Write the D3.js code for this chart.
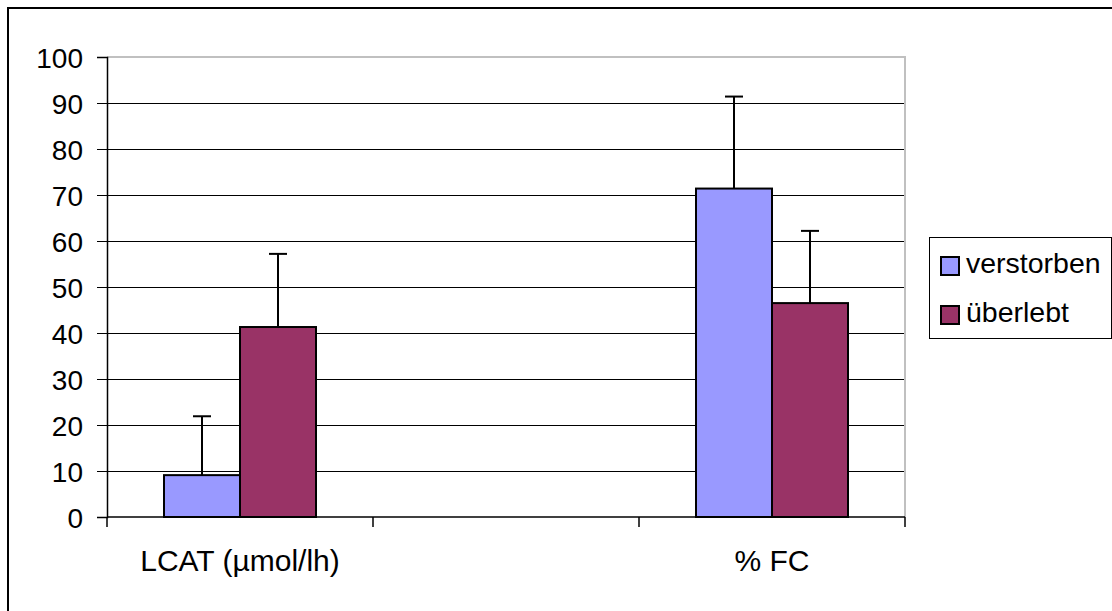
<!DOCTYPE html>
<html><head><meta charset="utf-8">
<script src="https://cdn.jsdelivr.net/npm/d3@7"></script>
<style>body{margin:0;background:#fff}svg{display:block}text{font-family:"Liberation Sans",Arial,sans-serif;fill:#000}</style>
</head><body>
<script>
const categories = ["LCAT (µmol/lh)", "", "% FC"];
const seriesNames = ["verstorben", "überlebt"];
const verstorben = [9.1, null, 71.4];
const ueberlebt = [41.3, null, 46.5];
const verstorbenErr = [12.8, null, 20.0];
const ueberlebtErr = [15.9, null, 15.7];
const yTicks = [0, 10, 20, 30, 40, 50, 60, 70, 80, 90, 100];
const colors = ["#9999FF", "#993366"];

const W = 1112, H = 611;
const svg = d3.select("body").append("svg").attr("width", W).attr("height", H);

// outer chart border (cropped on right/bottom)
svg.append("rect").attr("x", 8).attr("y", 8).attr("width", W + 10).attr("height", H + 10)
  .attr("fill", "#fff").attr("stroke", "#000").attr("stroke-width", 2);

const L = 107, R = 905, T = 57, B = 517;
const x = d3.scaleBand().domain(categories.map((c, i) => i)).range([L, R]).paddingInner(0).paddingOuter(0);
const y = d3.scaleLinear().domain([0, 100]).range([B, T]);

// gridlines
svg.append("g").selectAll("line").data(yTicks.filter(t => t > 0 && t < 100)).join("line")
  .attr("x1", L).attr("x2", R).attr("y1", d => y(d)).attr("y2", d => y(d))
  .attr("stroke", "#000").attr("stroke-width", 1).attr("shape-rendering", "crispEdges");

// plot area border (top & right gray)
svg.append("path").attr("d", `M${L},${y(100)}H${R}V${B}`).attr("fill", "none")
  .attr("stroke", "#c0c0c0").attr("stroke-width", 2);

// bars
const data = [];
categories.forEach((c, i) => {
  [verstorben, ueberlebt].forEach((s, j) => {
    if (s[i] != null) data.push({ i, j, v: s[i], e: (j === 0 ? verstorbenErr : ueberlebtErr)[i] });
  });
});
const bw = x.bandwidth() / 3.5;
const bx = d => x(d.i) + x.bandwidth() / 2 - bw + d.j * bw;

// error bars
const eg = svg.append("g").attr("stroke", "#000").attr("stroke-width", 2);
data.forEach(d => {
  const cx = bx(d) + bw / 2;
  eg.append("line").attr("x1", cx).attr("x2", cx).attr("y1", y(d.v)).attr("y2", y(d.v + d.e));
  eg.append("line").attr("x1", cx - 9).attr("x2", cx + 9).attr("y1", y(d.v + d.e)).attr("y2", y(d.v + d.e));
});

svg.append("g").selectAll("rect").data(data).join("rect")
  .attr("x", bx).attr("width", bw)
  .attr("y", d => y(d.v)).attr("height", d => y(0) - y(d.v))
  .attr("fill", d => colors[d.j]).attr("stroke", "#000").attr("stroke-width", 2);

// y axis
const yAxis = d3.axisLeft(y).tickValues(yTicks).tickSize(10).tickPadding(14);
const ya = svg.append("g").attr("transform", `translate(${L},0)`).call(yAxis);
ya.select(".domain").attr("stroke", "#000").attr("stroke-width", 1.5);
ya.selectAll(".tick line").attr("stroke", "#000");
ya.selectAll(".tick text").attr("font-size", 28).attr("font-family", '"Liberation Sans",Arial,sans-serif').attr("dy", "0.36em");

// x axis
const xTickPos = d3.range(categories.length + 1).map(k => L + k * x.bandwidth());
svg.append("line").attr("x1", L).attr("x2", R).attr("y1", B).attr("y2", B).attr("stroke", "#000").attr("stroke-width", 1.5);
svg.append("g").selectAll("line").data(xTickPos).join("line")
  .attr("x1", d => d).attr("x2", d => d).attr("y1", B).attr("y2", B + 10).attr("stroke", "#000").attr("stroke-width", 1.5);
svg.append("g").selectAll("text").data(categories).join("text")
  .attr("x", (d, i) => x(i) + x.bandwidth() / 2).attr("y", 571)
  .attr("text-anchor", "middle").attr("font-size", 30).text(d => d);

// legend
const lg = svg.append("g");
lg.append("rect").attr("x", 929.5).attr("y", 237.5).attr("width", 182).attr("height", 101)
  .attr("fill", "#fff").attr("stroke", "#000").attr("stroke-width", 1);
seriesNames.forEach((n, j) => {
  const yy = 257 + j * 49;
  lg.append("rect").attr("x", 941).attr("y", yy).attr("width", 18).attr("height", 18)
    .attr("fill", colors[j]).attr("stroke", "#000").attr("stroke-width", 2);
  lg.append("text").attr("x", 966).attr("y", yy + 16).attr("font-size", 28.5).text(n);
});
</script>
</body></html>
